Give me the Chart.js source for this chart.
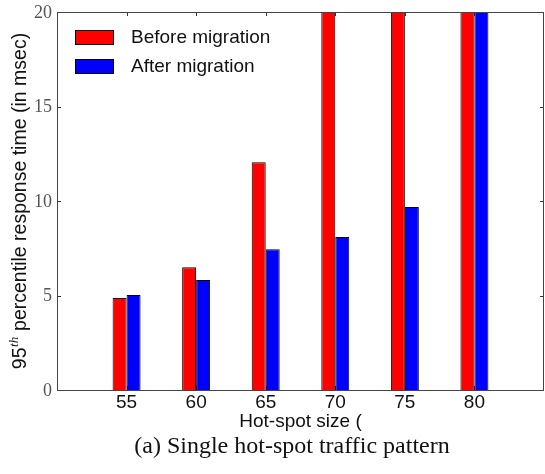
<!DOCTYPE html>
<html>
<head>
<meta charset="utf-8">
<script src="https://cdn.jsdelivr.net/npm/chart.js@4/dist/chart.umd.min.js"></script>
<style>
  html, body { margin: 0; padding: 0; background: #fff; }
  #wrap { width: 545px; height: 474px; }
</style>
</head>
<body>
<div id="wrap"><canvas id="c" width="545" height="474"></canvas></div>
<script>
// Hot-spot sizes on the x axis
const hotSpotSizes = [55, 60, 65, 70, 75, 80];
// 95th percentile response time (msec); values above 20 run off the top of the axis
const beforeMigration = [4.87, 6.5, 12.05, 24.5, 31.0, 38.5];
const afterMigration  = [5.02, 5.82, 7.45, 8.1, 9.68, 22.5];
const yTicks = [0, 5, 10, 15, 20];
const xRange = [50, 85];

const seriesNames = ['Before migration', 'After migration'];
const seriesColors = ['#ff0000', '#0000ff'];

const sans = '"Liberation Sans", Arial, sans-serif';
const serif = '"Liberation Serif", "Times New Roman", serif';

// Box, inward tick marks, tick labels, legend and text labels around the plot
const decorations = {
  id: 'decorations',
  beforeDatasetsDraw(chart) {
    const { ctx, chartArea: a, scales: { x, y } } = chart;
    ctx.save();
    ctx.strokeStyle = '#333';
    ctx.lineWidth = 1;
    ctx.beginPath();
    const tl = 4;
    yTicks.forEach(v => {
      const py = Math.round(y.getPixelForValue(v)) + 0.5;
      ctx.moveTo(a.left, py); ctx.lineTo(a.left + tl, py);
      ctx.moveTo(a.right, py); ctx.lineTo(a.right - tl, py);
    });
    hotSpotSizes.forEach(v => {
      const px = Math.round(x.getPixelForValue(v)) + 0.5;
      ctx.moveTo(px, a.top); ctx.lineTo(px, a.top + tl);
      ctx.moveTo(px, a.bottom); ctx.lineTo(px, a.bottom - tl);
    });
    ctx.stroke();

    // tick labels
    ctx.fillStyle = '#555';
    ctx.font = '18px ' + serif;
    ctx.textAlign = 'right';
    ctx.textBaseline = 'middle';
    yTicks.forEach(v => ctx.fillText(String(v), a.left - 5, y.getPixelForValue(v) + 1));
    ctx.fillStyle = '#111';
    ctx.font = '19px ' + sans;
    ctx.textAlign = 'center';
    ctx.textBaseline = 'alphabetic';
    hotSpotSizes.forEach(v => ctx.fillText(String(v), x.getPixelForValue(v), 408));
    ctx.restore();
  },
  afterDatasetsDraw(chart) {
    const { ctx, chartArea: a } = chart;
    ctx.save();
    // plot frame
    ctx.strokeStyle = '#444';
    ctx.lineWidth = 1;
    ctx.strokeRect(Math.round(a.left) + 0.5, Math.round(a.top) + 0.5,
                   Math.round(a.right - a.left) - 1, Math.round(a.bottom - a.top));

    // legend
    ctx.font = '19px ' + sans;
    ctx.textBaseline = 'middle';
    ctx.textAlign = 'left';
    chart.data.datasets.forEach((ds, i) => {
      const top = 30 + i * 29;
      ctx.fillStyle = ds.backgroundColor;
      ctx.fillRect(75, top, 39, 15);
      ctx.strokeStyle = '#000';
      ctx.strokeRect(75.5, top + 0.5, 38, 14);
      ctx.fillStyle = '#111';
      ctx.fillText(ds.label, 131, top + 8);
    });

    // x axis title
    ctx.textAlign = 'center';
    ctx.textBaseline = 'alphabetic';
    ctx.font = '19px ' + sans;
    ctx.fillStyle = '#111';
    ctx.fillText('Hot-spot size (', (a.left + a.right) / 2, 427);

    // caption
    ctx.font = '24px ' + serif;
    ctx.fillText('(a) Single hot-spot traffic pattern', 292, 453);

    // y axis title with superscript
    const mainFont = '19.5px ' + sans;
    const supFont = 'italic 13px ' + serif;
    const p1 = '95', sup = 'th', p2 = ' percentile response time (in msec)';
    ctx.font = mainFont; const w1 = ctx.measureText(p1).width;
    ctx.font = supFont; const ws = ctx.measureText(sup).width + 1;
    ctx.font = mainFont; const w2 = ctx.measureText(p2).width;
    const total = w1 + ws + w2;
    ctx.translate(26, 201);
    ctx.rotate(-Math.PI / 2);
    ctx.textAlign = 'left';
    let sx = -total / 2;
    ctx.font = mainFont; ctx.fillText(p1, sx, 0); sx += w1;
    ctx.font = supFont; ctx.fillText(sup, sx + 0.5, -8); sx += ws;
    ctx.font = mainFont; ctx.fillText(p2, sx, 0);
    ctx.restore();
  }
};

new Chart(document.getElementById('c'), {
  type: 'bar',
  data: {
    datasets: [beforeMigration, afterMigration].map((vals, i) => ({
      label: seriesNames[i],
      data: hotSpotSizes.map((h, j) => ({ x: h, y: vals[j] })),
      backgroundColor: seriesColors[i],
      borderColor: '#000',
      borderWidth: 1,
      barPercentage: 1.0,
      categoryPercentage: 0.402
    }))
  },
  options: {
    responsive: false,
    animation: false,
    layout: { padding: { top: 12, right: 1, left: 0, bottom: 0 } },
    plugins: { legend: { display: false }, tooltip: { enabled: false } },
    scales: {
      x: {
        type: 'linear',
        min: xRange[0], max: xRange[1],
        offset: false,
        grid: { display: false },
        border: { display: false },
        afterBuildTicks: s => { s.ticks = hotSpotSizes.map(v => ({ value: v })); },
        afterFit: s => { s.height = 84; },
        ticks: { display: false }
      },
      y: {
        min: 0, max: 20,
        grid: { display: false },
        border: { display: false },
        afterBuildTicks: s => { s.ticks = yTicks.map(v => ({ value: v })); },
        afterFit: s => { s.width = 57; },
        ticks: { display: false }
      }
    }
  },
  plugins: [decorations]
});
</script>
</body>
</html>
